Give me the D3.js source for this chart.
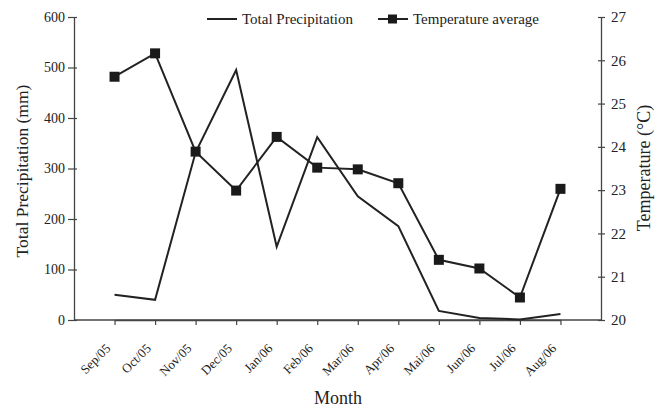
<!DOCTYPE html>
<html><head><meta charset="utf-8">
<script src="https://cdn.jsdelivr.net/npm/d3@7"></script>
<style>body{margin:0;background:#fff}svg{display:block}text{font-family:"Liberation Serif","Times New Roman",serif;fill:#222}</style>
</head><body><svg id="c" width="657" height="408"></svg>
<script>
const months = ["Sep/05","Oct/05","Nov/05","Dec/05","Jan/06","Feb/06","Mar/06","Apr/06","Mai/06","Jun/06","Jul/06","Aug/06"];
const precipitation = [50, 40, 332, 495, 145, 362, 245, 186, 18, 4, 1, 12];
const temperature = [25.62, 26.16, 23.89, 22.99, 24.23, 23.52, 23.48, 23.16, 21.39, 21.19, 20.52, 23.03];
const leftTicks = [0,100,200,300,400,500,600];
const rightTicks = [20,21,22,23,24,25,26,27];

const svg = d3.select("#c");
const L = 74, R = 601, T = 17, B = 320;
const step = (R - L) / (months.length + 1);
const x = d3.scalePoint().domain(months).range([L + step, R - step]);
const yL = d3.scaleLinear().domain([0,600]).range([B,T]);
const yR = d3.scaleLinear().domain([20,27]).range([B,T]);
const col = "#222";

// axes
const gl = svg.append("g").attr("transform",`translate(${L},0)`)
  .call(d3.axisLeft(yL).tickValues(leftTicks).tickSize(6).tickSizeOuter(0));
const gr = svg.append("g").attr("transform",`translate(${R},0)`)
  .call(d3.axisRight(yR).tickValues(rightTicks).tickFormat(d3.format("d")).tickSize(4).tickSizeOuter(0));
const gx = svg.append("g").attr("transform",`translate(0,${B})`)
  .call(d3.axisBottom(x).tickSize(5).tickSizeOuter(0));
[gl,gr,gx].forEach(g=>{
  g.select(".domain").attr("stroke","#444").attr("stroke-width",1.3);
  g.selectAll(".tick line").attr("stroke","#444").attr("stroke-width",1.2);
  g.selectAll("text").style("font-family",'"Liberation Serif",serif').attr("fill","#222");
});
gl.selectAll(".tick line").attr("x1",3);
gr.selectAll(".tick line").attr("x1",-3);
gl.selectAll("text").style("font-size","14px").attr("x",-9);
gr.selectAll("text").style("font-size","15px").attr("x",10);
svg.append("line").attr("x1",L).attr("x2",R).attr("y1",B).attr("y2",B).attr("stroke","#444").attr("stroke-width",1.3);
gx.selectAll("text").style("font-size","13px").attr("text-anchor","end")
  .attr("transform","translate(-7,26) rotate(-45)").attr("dy","0.35em").attr("y",0).attr("x",0);

// lines
const lineP = d3.line().x((d,i)=>x(months[i])).y(d=>yL(d));
const lineT = d3.line().x((d,i)=>x(months[i])).y(d=>yR(d));
svg.append("path").datum(precipitation).attr("d",lineP).attr("fill","none").attr("stroke",col).attr("stroke-width",2);
svg.append("path").datum(temperature).attr("d",lineT).attr("fill","none").attr("stroke",col).attr("stroke-width",2);
const ms = 10;
svg.selectAll("rect.m").data(temperature).enter().append("rect")
  .attr("x",(d,i)=>x(months[i])-ms/2).attr("y",d=>yR(d)-ms/2).attr("width",ms).attr("height",ms).attr("fill","#1a1a1a");

// titles
svg.append("text").attr("transform",`translate(28,171) rotate(-90)`).attr("text-anchor","middle")
  .style("font-size","17.5px").text("Total Precipitation (mm)");
svg.append("text").attr("transform",`translate(650,168) rotate(-90)`).attr("text-anchor","middle")
  .style("font-size","18px").text("Temperature (°C)");
svg.append("text").attr("x",338).attr("y",404).attr("text-anchor","middle").style("font-size","18px").text("Month");

// legend
svg.append("line").attr("x1",207).attr("x2",237).attr("y1",19).attr("y2",19).attr("stroke",col).attr("stroke-width",2);
svg.append("text").attr("x",242).attr("y",24).style("font-size","15px").text("Total Precipitation");
svg.append("line").attr("x1",378).attr("x2",408).attr("y1",19).attr("y2",19).attr("stroke",col).attr("stroke-width",2);
svg.append("rect").attr("x",388).attr("y",14.5).attr("width",9).attr("height",9).attr("fill","#1a1a1a");
svg.append("text").attr("x",413).attr("y",24).style("font-size","15px").text("Temperature average");
</script></body></html>
